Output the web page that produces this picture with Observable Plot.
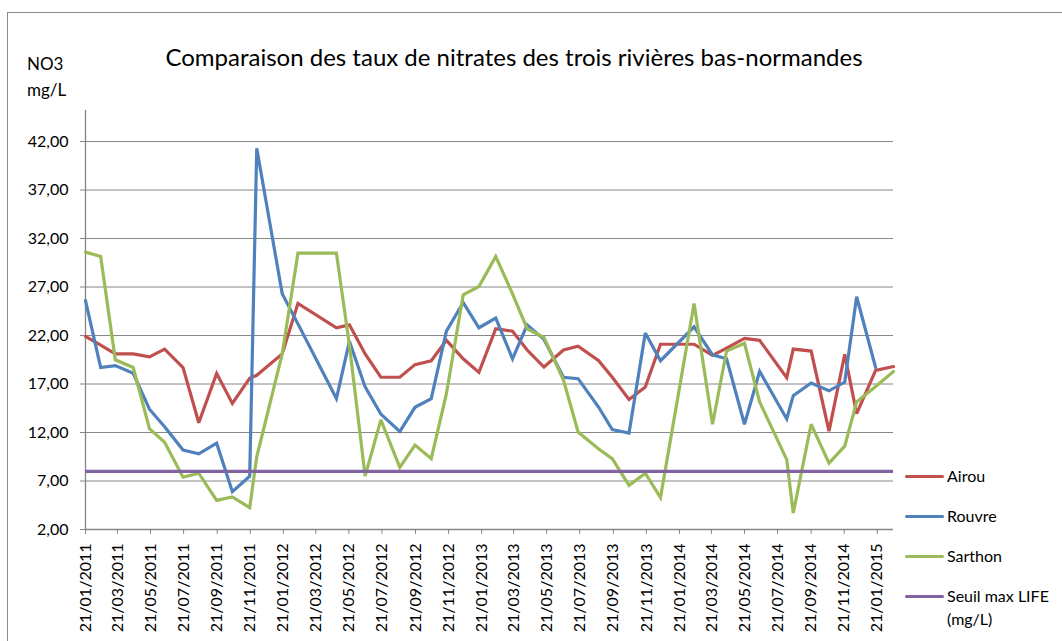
<!DOCTYPE html>
<html>
<head>
<meta charset="utf-8">
<script src="https://cdn.jsdelivr.net/npm/d3@7"></script>
<script src="https://cdn.jsdelivr.net/npm/@observablehq/plot@0.6"></script>
<style>
  html, body { margin: 0; padding: 0; background: #fff; }
  #wrap { position: relative; width: 1062px; height: 641px; overflow: hidden; font-family: Lato, "Open Sans", sans-serif; color: #000; }
  #border { position: absolute; left: 7px; top: 12px; width: 1100px; height: 700px; border: 1px solid #8c8c8c; box-sizing: border-box; }
  #title { position: absolute; left: 0; width: 1028px; top: 42px; text-align: center; font-size: 24px; line-height: 29px; white-space: nowrap; }
  #ylab { position: absolute; left: 27px; top: 51px; font-size: 17px; line-height: 26px; }
  #legend { position: absolute; left: 905px; top: 464px; font-size: 16px; }
  .li { position: absolute; left: 0; white-space: nowrap; }
  .sw { position: absolute; left: 0; width: 39px; height: 3px; border-radius: 1.5px; }
  .lt { position: absolute; left: 42px; line-height: 23px; }
  #chart { position: absolute; left: 0; top: 0; }
</style>
</head>
<body>
<div id="wrap">
  <div id="border"></div>
  <div id="chart"></div>
  <div id="title"></div>
  <div id="ylab">NO3<br>mg/L</div>
  <div id="legend"></div>
</div>
<script>
// ---- data ----
const dates = ["2011-01-21","2011-02-18","2011-03-17","2011-04-19","2011-05-19","2011-06-16","2011-07-20","2011-08-18","2011-09-20","2011-10-19","2011-11-20","2011-12-03","2012-01-19","2012-02-17","2012-04-28","2012-05-22","2012-06-20","2012-07-19","2012-08-23","2012-09-20","2012-10-20","2012-11-17","2012-12-18","2013-01-16","2013-02-16","2013-03-19","2013-04-15","2013-05-16","2013-06-21","2013-07-18","2013-08-25","2013-09-19","2013-10-20","2013-11-19","2013-12-17","2014-02-17","2014-03-23","2014-04-18","2014-05-21","2014-06-18","2014-08-07","2014-08-19","2014-09-21","2014-10-24","2014-11-22","2014-12-14","2015-01-18","2015-02-20"];
const airou = [21.9,21.0,20.1,20.1,19.8,20.6,18.7,13.0,18.1,15.0,17.6,17.9,20.1,25.3,22.8,23.1,20.1,17.7,17.7,19.0,19.4,21.5,19.6,18.2,22.7,22.45,20.5,18.75,20.5,20.9,19.4,17.7,15.4,16.7,21.1,21.1,19.95,20.7,21.7,21.5,17.65,20.6,20.4,12.15,20.05,13.95,18.4,18.8];
const rouvre = [25.6,18.7,18.9,18.1,14.4,12.6,10.2,9.8,10.9,5.9,7.5,41.3,26.3,23.2,15.5,21.4,16.7,13.9,12.1,14.6,15.5,22.45,25.4,22.8,23.8,19.6,23.1,21.6,17.7,17.55,14.6,12.3,11.95,22.25,19.4,22.9,20.0,19.6,12.85,18.3,13.4,15.8,17.1,16.3,17.2,26.0,18.7,null];
const sarthon = [30.6,30.15,19.5,18.7,12.4,11.0,7.4,7.8,5.0,5.35,4.25,9.5,20.1,30.5,30.5,21.0,7.5,13.3,8.4,10.7,9.3,16.0,26.2,27.05,30.15,26.3,22.7,21.8,17.4,12.05,10.3,9.3,6.55,7.8,5.3,25.3,12.85,20.4,21.2,15.15,9.2,3.7,12.85,8.85,10.6,15.15,16.75,18.3];
const seuil = 8;
const seriesNames = ["Airou", "Rouvre", "Sarthon", "Seuil max LIFE (mg/L)"];
const seriesColors = ["#C0504D", "#4F81BD", "#9BBB59", "#8064A2"];
const yTicks = [2, 7, 12, 17, 22, 27, 32, 37, 42];
const xTickLabels = ["21/01/2011","21/03/2011","21/05/2011","21/07/2011","21/09/2011","21/11/2011","21/01/2012","21/03/2012","21/05/2012","21/07/2012","21/09/2012","21/11/2012","21/01/2013","21/03/2013","21/05/2013","21/07/2013","21/09/2013","21/11/2013","21/01/2014","21/03/2014","21/05/2014","21/07/2014","21/09/2014","21/11/2014","21/01/2015"];
const titleText = "Comparaison des taux de nitrates des trois rivières bas-normandes";

// ---- build ----
const parseISO = d3.utcParse("%Y-%m-%d");
const parseFR = d3.utcParse("%d/%m/%Y");
const fmtFR = d3.utcFormat("%d/%m/%Y");
const xDates = dates.map(parseISO);
const xTicks = xTickLabels.map(parseFR);
const rows = [];
[airou, rouvre, sarthon].forEach((vals, i) => {
  vals.forEach((v, j) => { if (v != null) rows.push({date: xDates[j], value: v, series: seriesNames[i]}); });
});
const gray = "#868686";

const chart = Plot.plot({
  width: 1062,
  height: 641,
  marginLeft: 85,
  marginRight: 169,
  marginTop: 110,
  marginBottom: 112,
  style: {fontFamily: "Lato, sans-serif", fontSize: "16px", color: "#000", background: "transparent"},
  x: {type: "utc", domain: [xDates[0], xDates[xDates.length - 1]]},
  y: {domain: [2, 45.2]},
  marks: [
    Plot.gridY(yTicks, {stroke: gray, strokeOpacity: 1, strokeWidth: 1}),
    Plot.ruleX([xDates[0]], {stroke: gray, strokeWidth: 1.3}),
    Plot.ruleY([2], {stroke: gray, strokeWidth: 1.3}),
    Plot.axisY(yTicks, {tickSize: 5, tickPadding: 12, stroke: gray, fill: "#000", fontSize: 16, label: null,
      tickFormat: d => d.toFixed(2).replace(".", ",")}),
    Plot.axisX(xTicks, {tickSize: 5, tickPadding: 9, tickRotate: -90, stroke: gray, fill: "#000", fontSize: 16, label: null,
      tickFormat: d => fmtFR(d)}),
    ...[0, 1, 2].map(i => Plot.lineY(rows.filter(r => r.series === seriesNames[i]), {
      x: "date", y: "value", stroke: seriesColors[i], strokeWidth: 3.2, strokeLinejoin: "miter", strokeMiterlimit: 3
    })),
    Plot.ruleY([seuil], {stroke: seriesColors[3], strokeWidth: 3.2})
  ]
});
document.getElementById("chart").appendChild(chart);
document.getElementById("title").textContent = titleText;

const legend = document.getElementById("legend");
const legendLabels = [["Airou"], ["Rouvre"], ["Sarthon"], ["Seuil max LIFE", "(mg/L)"]];
legendLabels.forEach((lines, i) => {
  const li = document.createElement("div");
  li.className = "li";
  li.style.top = (i * 40) + "px";
  const sw = document.createElement("div");
  sw.className = "sw";
  sw.style.background = seriesColors[i];
  sw.style.top = "11px";
  const lt = document.createElement("div");
  lt.className = "lt";
  lt.innerHTML = lines.join("<br>");
  li.appendChild(sw);
  li.appendChild(lt);
  legend.appendChild(li);
});
</script>
</body>
</html>
